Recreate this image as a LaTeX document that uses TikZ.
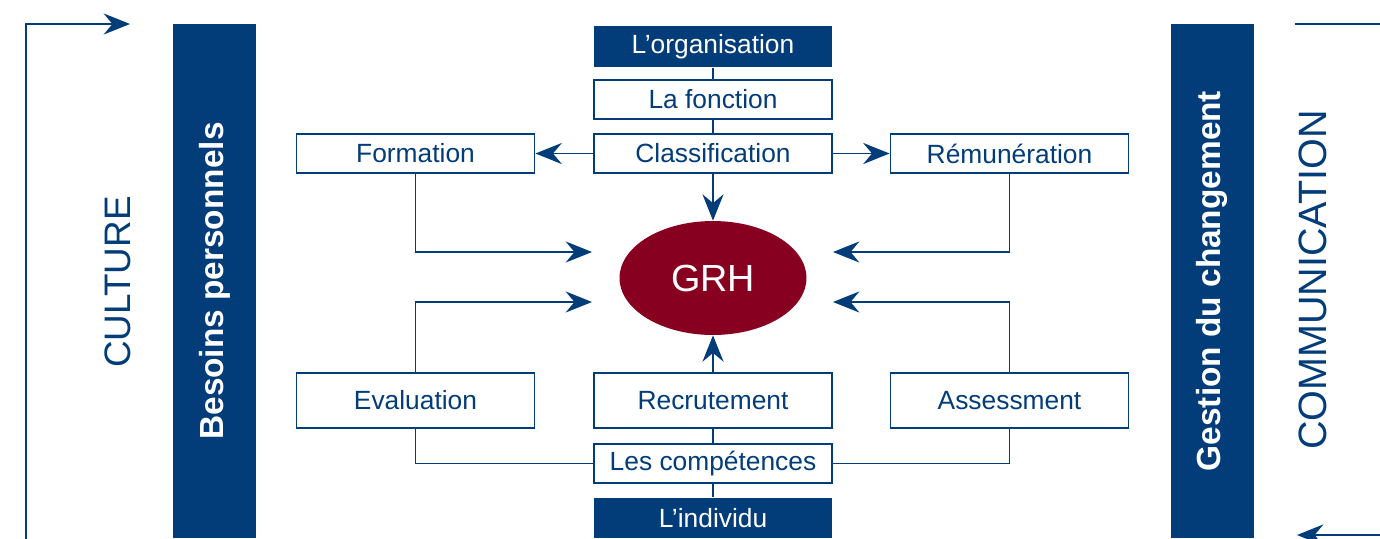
\documentclass[tikz,border=0pt]{standalone}
\usepackage{fontspec}
\setmainfont{Liberation Sans}
\usetikzlibrary{arrows.meta,shapes.geometric}

\definecolor{grhblue}{RGB}{2,61,122}
\definecolor{grhred}{RGB}{135,0,32}

\tikzset{
  box/.style={draw=grhblue, line width=1.1pt, fill=white, text=grhblue,
    minimum width=4.76cm, minimum height=0.77cm, inner sep=0pt,
    font=\fontsize{15}{17}\selectfont},
  tallbox/.style={box, minimum height=1.1cm},
  darkbox/.style={box, draw=none, fill=grhblue, text=white, minimum height=0.81cm},
  bar/.style={fill=grhblue, text=white, rotate=90, inner sep=0pt,
    minimum width=10.28cm, minimum height=1.66cm,
    font=\fontsize{19}{22}\selectfont\bfseries},
  side/.style={rotate=90, text=grhblue, inner sep=0pt,
    font=\fontsize{21}{24}\selectfont},
  link/.style={draw=grhblue, line width=1.1pt}
}

\begin{document}
\begin{tikzpicture}[x=0.02cm, y=-0.02cm,
    >={Stealth[length=15pt,width=12pt,inset=5pt]}]
  \useasboundingbox (0,0) rectangle (1380,538);

  % frame
  \coordinate (cultB) at (26,540);
  \coordinate (cultT) at (26,24);
  \coordinate (cultE) at (130,24);
  \coordinate (commT) at (1295,24);
  \coordinate (commTR) at (1382,24);
  \coordinate (commBR) at (1382,535);
  \coordinate (commE) at (1297,535);
  \draw[link,->] (cultB) -- (cultT) -- (cultE);
  \draw[link] (commT) -- (commTR);
  \draw[link,->] (commBR) -- (commE);

  \node[side] (culture) at (118,282) {CULTURE};
  \node[side, font=\fontsize{22.5}{26}\selectfont] (comm) at (1313,280) {COMMUNICATION};

  \node[bar] (besoins) at (214.5,281) {Besoins personnels};
  \node[bar] (gestion) at (1212,281) {Gestion du changement};

  % centre
  \node[ellipse, fill=grhred, text=white, minimum width=3.74cm,
    minimum height=2.28cm, inner sep=0pt,
    font=\fontsize{21.5}{24}\selectfont] (grh) at (713,278) {GRH};

  \node[darkbox] (orga) at (713,46.5) {L’organisation};
  \node[box] (fonction) at (713,99.5) {La fonction};
  \node[box] (classif) at (713,153.5) {Classification};
  \node[box] (formation) at (415.5,153.5) {Formation};
  \node[box] (remun) at (1009.5,153.5) {Rémunération};

  \node[tallbox] (evaluation) at (415.5,400.5) {Evaluation};
  \node[tallbox] (recrut) at (713,400.5) {Recrutement};
  \node[tallbox] (assess) at (1009.5,400.5) {Assessment};
  \node[box] (competences) at (713,463.5) {Les compétences};
  \node[darkbox] (individu) at (713,518) {L’individu};

  \coordinate (inTL) at (592,252);
  \coordinate (inBL) at (592,302);
  \coordinate (inTR) at (833,252);
  \coordinate (inBR) at (833,302);

  \draw[link] (orga) -- (fonction) -- (classif);
  \draw[link] (recrut) -- (competences) -- (individu);
  \draw[link,->] (classif) -- (formation);
  \draw[link,->] (classif) -- (remun);
  \draw[link,->] (classif) -- (grh);
  \draw[link,->] (recrut) -- (grh);
  \draw[link,->] (formation.south) |- (inTL);
  \draw[link,->] (remun.south) |- (inTR);
  \draw[link,->] (evaluation.north) |- (inBL);
  \draw[link,->] (assess.north) |- (inBR);
  \draw[link] (competences.west) -| (evaluation.south);
  \draw[link] (competences.east) -| (assess.south);
\end{tikzpicture}
\end{document}
